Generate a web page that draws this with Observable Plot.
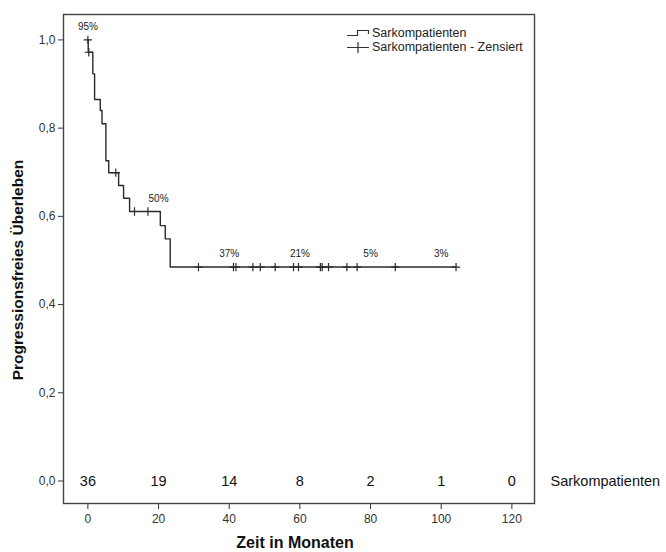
<!DOCTYPE html>
<html>
<head>
<meta charset="utf-8">
<script src="https://cdn.jsdelivr.net/npm/d3@7"></script>
<script src="https://cdn.jsdelivr.net/npm/@observablehq/plot@0.6"></script>
<style>
  body { margin: 0; background: #fff; font-family: "Liberation Sans", Arial, sans-serif; }
  #chart { position: relative; width: 666px; height: 552px; }
  .legend { position: absolute; left: 346px; top: 26px; font-size: 12.5px; color: #222; line-height: 14px; }
  .legend div { display: flex; align-items: center; height: 14px; }
  .legend svg { margin-right: 2px; }
</style>
</head>
<body>
<div id="chart"></div>
<script>
// Kaplan–Meier estimate: progression-free survival of sarcoma patients
const groupName = "Sarkompatienten";
const censorName = "Sarkompatienten - Zensiert";

// event times (months) and survival right after each event
const eventTimes = [0.1, 1.4, 1.9, 3.5, 4.0, 5.1, 5.9, 8.7, 10.1, 11.8, 20.5, 21.9, 23.3];
const survival   = [0.972, 0.923, 0.865, 0.840, 0.810, 0.726, 0.699, 0.670, 0.641, 0.611, 0.579, 0.549, 0.485];

// censored observations (months)
const censorTimes = [0, 0.25, 7.9, 13.2, 17.0, 31.3, 41.2, 41.9, 46.7, 48.8, 53.0,
                     58.2, 59.6, 65.8, 66.3, 68.1, 73.3, 76.2, 87.0, 104.2];

// percentages printed above the curve
const pctTimes  = [0, 20, 40, 60, 80, 100];
const pctLabels = ["95%", "50%", "37%", "21%", "5%", "3%"];

// numbers at risk
const riskTimes = [0, 20, 40, 60, 80, 100, 120];
const atRisk    = [36, 19, 14, 8, 2, 1, 0];

const xTicks = [0, 20, 40, 60, 80, 100, 120];
const yTicks = [0, 0.2, 0.4, 0.6, 0.8, 1.0];

const xTitle = "Zeit in Monaten";
const yTitle = "Progressionsfreies Überleben";

// survival value of the step function at time t
function survivalAt(t) {
  let s = 1;
  for (let i = 0; i < eventTimes.length; i++) if (eventTimes[i] <= t) s = survival[i];
  return s;
}

const lastTime = d3.max(censorTimes);
const curve = [{t: 0, s: 1}]
  .concat(eventTimes.map((t, i) => ({t, s: survival[i]})))
  .concat([{t: lastTime, s: survivalAt(lastTime)}]);
const censored = censorTimes.map(t => ({t, s: survivalAt(t)}));
const pct = pctTimes.map((t, i) => ({t, s: survivalAt(t), label: pctLabels[i]}));
const risk = riskTimes.map((t, i) => ({t, n: atRisk[i]}));

const comma = d => d.toFixed(1).replace(".", ",");
const ink = "#333";

const chart = Plot.plot({
  width: 666,
  height: 552,
  marginLeft: 63,
  marginRight: 132,
  marginTop: 14,
  marginBottom: 49,
  style: {fontFamily: "'Liberation Sans', Arial, sans-serif", background: "#fff", color: ink},
  x: {domain: [-6.9, 126.4], ticks: xTicks, label: null},
  y: {domain: [-0.051, 1.0576], ticks: yTicks, label: null},
  marks: [
    Plot.axisX({ticks: xTicks, tickSize: 6, tickPadding: 5, fontSize: 12, stroke: ink, fill: ink, label: null, tickFormat: d => String(d)}),
    Plot.axisY({ticks: yTicks, tickSize: 5, tickPadding: 3, fontSize: 12, stroke: ink, fill: ink, label: null, tickFormat: comma}),
    Plot.frame({stroke: "#444", strokeWidth: 1.4}),
    Plot.line(curve, {x: "t", y: "s", curve: "step-after", stroke: "#2a2a2a", strokeWidth: 1.4}),
    Plot.dot(censored, {x: "t", y: "s", symbol: "plus", r: 2.8, stroke: "#2a2a2a", strokeWidth: 1.2}),
    Plot.text(pct, {x: "t", y: "s", text: "label", dy: -13, fontSize: 10, fill: "#222"}),
    Plot.text(risk, {x: "t", y: () => 0, text: d => String(d.n), fontSize: 14.5, fill: "#111"}),
    Plot.text([groupName], {frameAnchor: "right", y: () => 0, dx: 16, textAnchor: "start", fontSize: 14.5, fill: "#111"}),
    Plot.text([xTitle], {frameAnchor: "bottom", dx: -4, dy: 44, fontSize: 16, fontWeight: "bold", fill: "#111"}),
    Plot.text([yTitle], {frameAnchor: "left", dx: -45, dy: 11, rotate: -90, textAnchor: "middle", fontSize: 15.5, fontWeight: "bold", fill: "#111"})
  ]
});

const root = document.getElementById("chart");
root.appendChild(chart);

// legend: step line for the curve, cross for censored cases
const legend = document.createElement("div");
legend.className = "legend";
legend.innerHTML =
  `<div><svg width="24" height="14"><path d="M1,9.5H11.5V4.5H22.5V8" fill="none" stroke="#333" stroke-width="1.2"/></svg>${groupName}</div>` +
  `<div><svg width="24" height="14"><path d="M1,7.5H23M12,2V13" fill="none" stroke="#333" stroke-width="1.2"/></svg>${censorName}</div>`;
root.appendChild(legend);
</script>
</body>
</html>
